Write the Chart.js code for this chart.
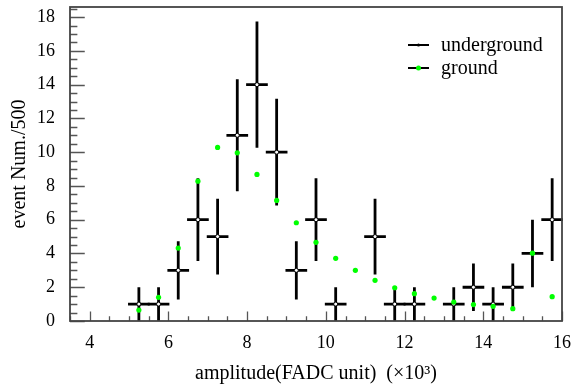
<!DOCTYPE html>
<html>
<head>
<meta charset="utf-8">
<script src="https://cdn.jsdelivr.net/npm/chart.js@4/dist/chart.umd.min.js"></script>
<style>
  html, body { margin: 0; padding: 0; background: #ffffff; }
  #wrap { width: 572px; height: 391px; position: relative; }
</style>
</head>
<body>
<div id="wrap"><canvas id="c"></canvas></div>
<script>
// ---- data ----
const undergroundX   = [5.25, 5.75, 6.25, 6.75, 7.25, 7.75, 8.25, 8.75, 9.25, 9.75, 10.25, 11.25, 11.75, 12.25, 13.25, 13.75, 14.25, 14.75, 15.25, 15.75];
const undergroundY   = [1, 1, 3, 6, 5, 11, 14, 10, 3, 6, 1, 5, 1, 1, 1, 2, 1, 2, 4, 6];
const undergroundErr = [1, 1, 1.73, 2.45, 2.24, 3.32, 3.74, 3.16, 1.73, 2.45, 1, 2.24, 1, 1, 1, 1.41, 1, 1.41, 2, 2.45];
const binHalfWidth   = 0.25;

const groundX = [5.25, 5.75, 6.25, 6.75, 7.25, 7.75, 8.25, 8.75, 9.25, 9.75, 10.25, 10.75, 11.25, 11.75, 12.25, 12.75, 13.25, 13.75, 14.25, 14.75, 15.25, 15.75];
const groundY = [0.65, 1.40, 4.32, 8.28, 10.28, 9.96, 8.68, 7.14, 5.82, 4.66, 3.71, 3.00, 2.41, 1.97, 1.62, 1.36, 1.12, 0.97, 0.87, 0.73, 4.02, 1.44];

const seriesNames = ['underground', 'ground'];
const xTitle = 'amplitude(FADC unit)  (\u00d710\u00b3)';
const yTitle = 'event Num./500';

const FONT = "'Liberation Serif', 'DejaVu Serif', serif";

// ---- plugins ----
const errorBars = {
  id: 'errorBars',
  beforeDatasetsDraw(chart) {
    const ctx = chart.ctx, xs = chart.scales.x, ys = chart.scales.y;
    ctx.save();
    ctx.strokeStyle = '#000';
    ctx.lineWidth = 2.8;
    ctx.lineCap = 'butt';
    for (let i = 0; i < undergroundX.length; i++) {
      const x = undergroundX[i], y = undergroundY[i], e = undergroundErr[i];
      const px = xs.getPixelForValue(x), py = ys.getPixelForValue(y);
      ctx.beginPath();
      ctx.moveTo(xs.getPixelForValue(x - binHalfWidth) - 1, py);
      ctx.lineTo(xs.getPixelForValue(x + binHalfWidth) + 1, py);
      ctx.moveTo(px, ys.getPixelForValue(Math.max(0, y - e)));
      ctx.lineTo(px, ys.getPixelForValue(y + e));
      ctx.stroke();
    }
    ctx.restore();
  }
};

const frameAndTicks = {
  id: 'frameAndTicks',
  afterDatasetsDraw(chart) {
    const ctx = chart.ctx, xs = chart.scales.x, ys = chart.scales.y, a = chart.chartArea;
    ctx.save();
    ctx.strokeStyle = '#555';
    ctx.lineWidth = 1.3;
    ctx.beginPath();
    const yMajorLen = 0.03 * (a.right - a.left);
    for (let v = 0; v <= ys.max + 1e-9; v += 0.5) {
      const p = Math.round(ys.getPixelForValue(v)) + 0.5;
      const major = Math.abs(v / 2 - Math.round(v / 2)) < 1e-6;
      ctx.moveTo(a.left, p);
      ctx.lineTo(a.left + (major ? yMajorLen : yMajorLen / 2), p);
    }
    const xMajorLen = 0.03 * (a.bottom - a.top);
    for (let v = xs.min; v <= xs.max + 1e-9; v += 0.5) {
      const p = Math.round(xs.getPixelForValue(v)) + 0.5;
      const major = Math.abs(v / 2 - Math.round(v / 2)) < 1e-6;
      ctx.moveTo(p, a.bottom);
      ctx.lineTo(p, a.bottom - (major ? xMajorLen : xMajorLen / 2));
    }
    ctx.stroke();
    ctx.strokeStyle = '#444';
    ctx.lineWidth = 1.8;
    ctx.strokeRect(a.left, a.top, a.right - a.left, a.bottom - a.top);
    ctx.restore();
  }
};

const customLegend = {
  id: 'customLegend',
  afterDraw(chart) {
    const ctx = chart.ctx, a = chart.chartArea;
    const x0 = a.right - 154, y0 = a.top + 38, gap = 23;
    ctx.save();
    ctx.font = '20px ' + FONT;
    ctx.textBaseline = 'middle';
    ctx.textAlign = 'left';
    seriesNames.forEach((name, i) => {
      const y = y0 + i * gap;
      ctx.strokeStyle = '#000';
      ctx.lineWidth = 2;
      ctx.beginPath();
      ctx.moveTo(x0, y);
      ctx.lineTo(x0 + 21, y);
      ctx.stroke();
      ctx.beginPath();
      ctx.fillStyle = i === 0 ? '#000' : '#00ff00';
      ctx.arc(x0 + 10.5, y, i === 0 ? 1.6 : 2.5, 0, Math.PI * 2);
      ctx.fill();
      ctx.fillStyle = '#000';
      ctx.fillText(name, x0 + 33, y + 1);
    });
    ctx.restore();
  }
};

new Chart(document.getElementById('c'), {
  type: 'scatter',
  data: {
    datasets: [
      {
        label: seriesNames[0],
        data: undergroundX.map((x, i) => ({ x: x, y: undergroundY[i] })),
        pointStyle: 'circle',
        pointRadius: 2,
        pointBackgroundColor: '#ffffff',
        pointBorderColor: '#000000',
        pointBorderWidth: 1,
        showLine: false,
        order: 1
      },
      {
        label: seriesNames[1],
        data: groundX.map((x, i) => ({ x: x, y: groundY[i] })),
        pointStyle: 'circle',
        pointRadius: 2.6,
        pointBackgroundColor: '#00ff00',
        pointBorderColor: '#00ff00',
        pointBorderWidth: 0,
        showLine: false,
        order: 0
      }
    ]
  },
  options: {
    responsive: true,
    maintainAspectRatio: false,
    devicePixelRatio: 1,
    animation: false,
    events: [],
    layout: { padding: { top: 7, right: 10, left: 0, bottom: 0 } },
    plugins: {
      legend: { display: false },
      tooltip: { enabled: false }
    },
    scales: {
      x: {
        type: 'linear',
        min: 3.5,
        max: 16,
        grid: { display: false, drawTicks: false },
        border: { display: false },
        ticks: {
          stepSize: 2,
          includeBounds: false,
          color: '#000',
          padding: 11,
          maxRotation: 0,
          font: { family: FONT, size: 18 }
        },
        title: {
          display: true,
          text: xTitle,
          color: '#000',
          font: { family: FONT, size: 20 },
          padding: { top: 0, bottom: 5 }
        },
        afterFit(s) { s.height = 70; s.paddingLeft = 0; s.paddingRight = 0; }
      },
      y: {
        type: 'linear',
        min: 0,
        max: 18.6,
        grid: { display: false, drawTicks: false },
        border: { display: false },
        ticks: {
          stepSize: 2,
          includeBounds: false,
          color: '#000',
          padding: 15,
          font: { family: FONT, size: 18 }
        },
        title: {
          display: true,
          text: yTitle,
          color: '#000',
          font: { family: FONT, size: 20 },
          padding: { top: 8, bottom: 0 }
        },
        afterFit(s) { s.width = 70; s.paddingTop = 0; s.paddingBottom = 0; }
      }
    }
  },
  plugins: [errorBars, frameAndTicks, customLegend]
});
</script>
</body>
</html>
